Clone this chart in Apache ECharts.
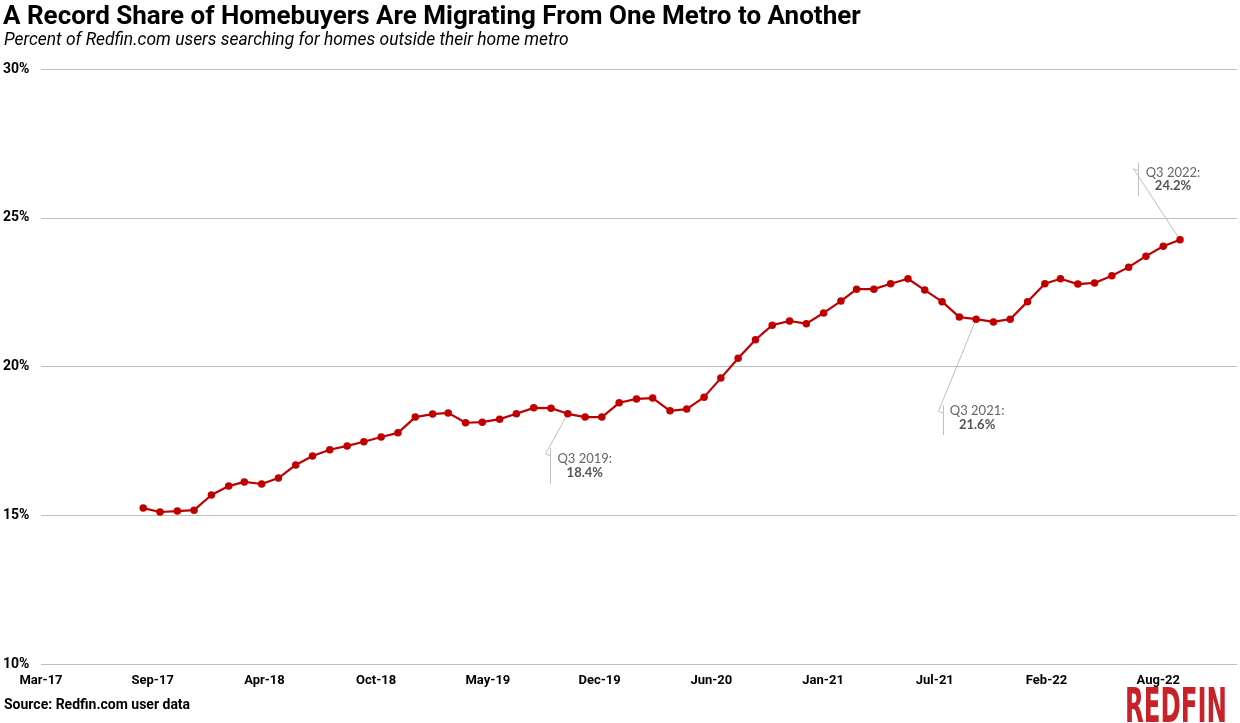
<!DOCTYPE html>
<html lang="en">
<head>
<meta charset="UTF-8">
<title>Metro migration share</title>
<script src="https://cdn.jsdelivr.net/npm/echarts@6/dist/echarts.min.js"></script>
<style>
    html, body { margin: 0; padding: 0; background: #fff; }
    #main { width: 1240px; height: 723px; }
</style>
</head>
<body>
<div id="main"></div>
<script>
// monthly share of users searching outside their home metro (%)
var months = [
    '2017-08', '2017-09', '2017-10', '2017-11', '2017-12',
    '2018-01', '2018-02', '2018-03', '2018-04', '2018-05', '2018-06', '2018-07', '2018-08', '2018-09', '2018-10', '2018-11', '2018-12',
    '2019-01', '2019-02', '2019-03', '2019-04', '2019-05', '2019-06', '2019-07', '2019-08', '2019-09', '2019-10', '2019-11', '2019-12',
    '2020-01', '2020-02', '2020-03', '2020-04', '2020-05', '2020-06', '2020-07', '2020-08', '2020-09', '2020-10', '2020-11', '2020-12',
    '2021-01', '2021-02', '2021-03', '2021-04', '2021-05', '2021-06', '2021-07', '2021-08', '2021-09', '2021-10', '2021-11', '2021-12',
    '2022-01', '2022-02', '2022-03', '2022-04', '2022-05', '2022-06', '2022-07', '2022-08', '2022-09'
];
var shares = [
    15.24, 15.11, 15.14, 15.17, 15.68,
    15.98, 16.12, 16.05, 16.25, 16.69, 16.99, 17.20, 17.33, 17.47, 17.63, 17.77, 18.30,
    18.40, 18.44, 18.11, 18.13, 18.23, 18.41, 18.61, 18.60, 18.41, 18.30, 18.30, 18.78,
    18.91, 18.94, 18.51, 18.57, 18.97, 19.61, 20.28, 20.90, 21.39, 21.53, 21.44, 21.80,
    22.20, 22.60, 22.60, 22.78, 22.95, 22.57, 22.18, 21.66, 21.59, 21.50, 21.59, 22.18,
    22.78, 22.95, 22.77, 22.81, 23.05, 23.34, 23.71, 24.04, 24.26
];
var tickLabels = ['Mar-17', 'Sep-17', 'Apr-18', 'Oct-18', 'May-19', 'Dec-19', 'Jun-20', 'Jan-21', 'Jul-21', 'Feb-22', 'Aug-22'];
var yTicks = [10, 15, 20, 25, 30];

// annotated points
var noteMonths = ['2019-09', '2021-09', '2022-09'];
var noteLabels = ['Q3 2019:', 'Q3 2021:', 'Q3 2022:'];
var noteValues = ['18.4%', '21.6%', '24.2%'];

// x axis is a date axis counted in days from 1 Mar 2017, one label every 200 days
var DAY = 86400000;
var AXIS_START = Date.UTC(2017, 2, 1);
var LABEL_STEP = 200;

function dayOf(ym) {
    var p = ym.split('-');
    // last day of that month
    return Math.round((Date.UTC(+p[0], +p[1], 0) - AXIS_START) / DAY);
}

var points = [];
for (var i = 0; i < months.length; i++) {
    points.push([dayOf(months[i]), shares[i]]);
}

var myChart = echarts.init(document.getElementById('main'));

var option = {
    animation: false,
    backgroundColor: '#ffffff',
    grid: {
        left: 41,
        right: 0,
        top: 69,
        bottom: 59,
        containLabel: false
    },
    xAxis: {
        type: 'value',
        min: 0,
        max: 2141,
        interval: LABEL_STEP,
        axisLine: { show: false },
        axisTick: { show: false },
        splitLine: { show: false },
        axisLabel: {
            margin: 10,
            color: '#000',
            fontFamily: 'Roboto',
            fontWeight: 'bold',
            fontSize: 13,
            formatter: function (v) {
                var k = Math.round(v / LABEL_STEP);
                if (Math.abs(v - k * LABEL_STEP) < 0.5 && k < tickLabels.length) {
                    return tickLabels[k];
                }
                return '';
            }
        }
    },
    yAxis: {
        type: 'value',
        min: yTicks[0],
        max: yTicks[yTicks.length - 1],
        interval: yTicks[1] - yTicks[0],
        axisLine: { show: false },
        axisTick: { show: false },
        splitLine: { lineStyle: { color: '#bfbfbf', width: 1 } },
        axisLabel: {
            align: 'left',
            margin: 38,
            color: '#000',
            fontFamily: 'Roboto',
            fontWeight: 'bold',
            fontSize: 14,
            formatter: '{value}%'
        }
    },
    series: [{
        type: 'line',
        data: points,
        symbol: 'circle',
        symbolSize: 7.5,
        showAllSymbol: true,
        itemStyle: { color: '#c00000' },
        lineStyle: { color: '#c00000', width: 2.2 }
    }]
};

myChart.setOption(option);

// callout layout, pixel offsets from the annotated point
var noteLayout = [
    { vx: -18, vTop: 34, vBot: 70, cx: 17, y1: 45, y2: 59 },
    { vx: -33, vTop: 86, vBot: 116, cx: 1, y1: 92, y2: 106 },
    { vx: -42, vTop: -77, vBot: -44, cx: -7, y1: -67, y2: -54 }
];

function textEl(x, y, str, font, fill, align) {
    return {
        type: 'text',
        x: x,
        y: y,
        style: {
            text: str,
            font: font,
            fill: fill,
            align: align || 'left',
            verticalAlign: 'middle'
        }
    };
}

var graphics = [
    textEl(3, 17, 'A Record Share of Homebuyers Are Migrating From One Metro to Another', 'bold 26px Roboto', '#000'),
    textEl(4, 41, 'Percent of Redfin.com users searching for homes outside their home metro', 'italic 17.4px Roboto', '#000'),
    textEl(4, 705, 'Source: Redfin.com user data', 'bold 14px Roboto', '#000')
];

// logo, squeezed to its width
var logoFont = 'bold 48px "DejaVu Sans Condensed"';
var ctx = document.createElement('canvas').getContext('2d');
ctx.font = logoFont;
var logoW = ctx.measureText('REDFIN').width || 160;
var logo = textEl(1125, 710, 'REDFIN', logoFont, '#c82128');
logo.scaleX = 102 / logoW;
graphics.push(logo);

for (var n = 0; n < noteMonths.length; n++) {
    var idx = months.indexOf(noteMonths[n]);
    var pt = myChart.convertToPixel({ seriesIndex: 0 }, points[idx]);
    var L = noteLayout[n];
    var vx = Math.round(pt[0] + L.vx) + 0.5;
    var vTopY = pt[1] + L.vTop;
    graphics.push({
        type: 'polyline',
        shape: { points: [[pt[0], pt[1]], [vx - 5, vTopY + 6], [vx, vTopY + 8]] },
        style: { stroke: '#bfbfbf', lineWidth: 1, fill: null }
    });
    graphics.push({
        type: 'line',
        shape: { x1: vx, y1: vTopY, x2: vx, y2: pt[1] + L.vBot },
        style: { stroke: '#bfbfbf', lineWidth: 1 }
    });
    graphics.push(textEl(pt[0] + L.cx, pt[1] + L.y1, noteLabels[n], '13px Lato', '#666666', 'center'));
    graphics.push(textEl(pt[0] + L.cx, pt[1] + L.y2, noteValues[n], 'bold 13px Lato', '#555555', 'center'));
}

myChart.setOption({ graphic: { elements: graphics } });

window.addEventListener('resize', function () {
    myChart.resize();
});
</script>
</body>
</html>
